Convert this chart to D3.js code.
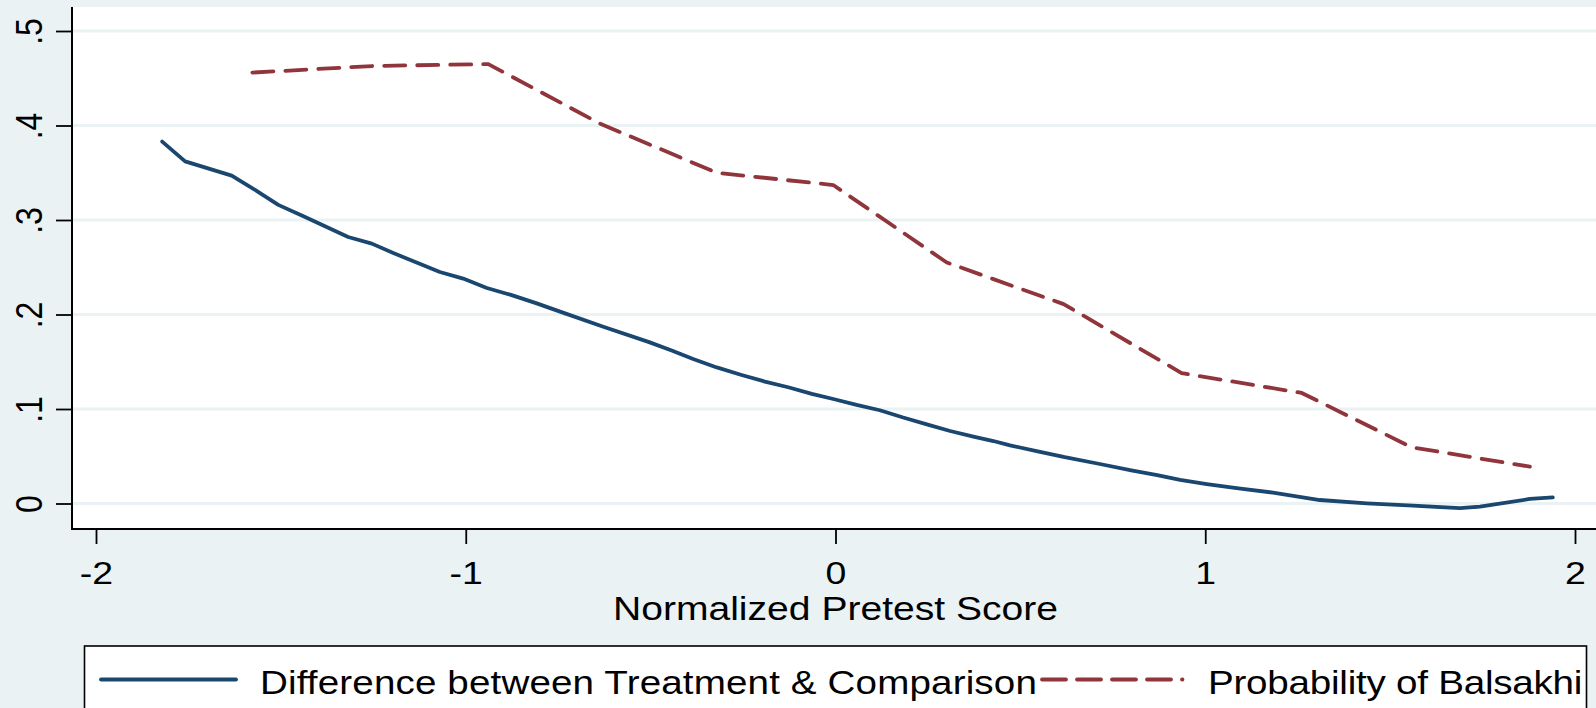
<!DOCTYPE html>
<html>
<head>
<meta charset="utf-8">
<script src="https://cdn.jsdelivr.net/npm/d3@7"></script>
<style>
  html, body { margin: 0; padding: 0; background: #EAF2F3; overflow: hidden; }
  svg { display: block; }
  text { font-family: "Liberation Sans", Arial, sans-serif; fill: #000; }
</style>
</head>
<body>
<svg id="chart" width="1596" height="708"></svg>
<script>
// ---- data ----
const diffX = [-1.821, -1.759, -1.633, -1.570, -1.507, -1.439, -1.318, -1.254, -1.196, -1.133,
               -1.070, -1.007, -0.943, -0.880, -0.810, -0.745, -0.628, -0.506, -0.443, -0.385,
               -0.321, -0.254, -0.191, -0.128, -0.064, -0.006, 0.057, 0.120, 0.183, 0.247,
               0.310, 0.373, 0.427, 0.472, 0.550, 0.620, 0.715, 0.800, 0.870, 0.932,
               1.004, 1.090, 1.183, 1.310, 1.437, 1.562, 1.689, 1.743, 1.878, 1.940];
const diffY = [0.383, 0.362, 0.347, 0.332, 0.316, 0.304, 0.282, 0.275, 0.265, 0.255,
               0.245, 0.238, 0.228, 0.221, 0.212, 0.203, 0.187, 0.171, 0.162, 0.153,
               0.144, 0.136, 0.129, 0.123, 0.116, 0.1106, 0.1043, 0.0987, 0.0910, 0.0838,
               0.0767, 0.0708, 0.0661, 0.0615, 0.0550, 0.0490, 0.0418, 0.0350, 0.0300, 0.0249,
               0.0206, 0.0160, 0.0115, 0.0037, 0.0002, -0.0023, -0.0050, -0.0033, 0.0048, 0.0065];

const probX = [-1.577, -1.250, -0.939, -0.637, -0.321, -0.006, 0.301, 0.617, 0.936, 1.261, 1.558, 1.878];
const probY = [0.456, 0.463, 0.465, 0.402, 0.350, 0.337, 0.255, 0.211, 0.138, 0.117, 0.0595, 0.039];

const xTicks = [-2, -1, 0, 1, 2];
const xTickLabels = ["-2", "-1", "0", "1", "2"];
const yTicks = [0, 0.1, 0.2, 0.3, 0.4, 0.5];
const yTickLabels = ["0", ".1", ".2", ".3", ".4", ".5"];

const xTitle = "Normalized Pretest Score";
const seriesNames = ["Difference between Treatment & Comparison", "Probability of Balsakhi"];
const seriesColors = ["#1A476F", "#90353B"];

// ---- layout ----
const W = 1596, H = 708;
const plotL = 72, plotT = 7, plotR = 1596, plotB = 529;
const SX = 1.17; // horizontal stretch of the original picture
const tickFont = 32, titleFont = 33.4, legendFont = 33;

const svg = d3.select("#chart");

const x = d3.scaleLinear().domain([-2, 2]).range([96, 1575]);
const y = d3.scaleLinear().domain([0, 0.5]).range([503.5, 31]);

// plot region
svg.append("rect")
  .attr("x", plotL).attr("y", plotT)
  .attr("width", plotR - plotL).attr("height", plotB - plotT)
  .attr("fill", "#FFFFFF");

// gridlines
svg.append("g").selectAll("line").data(yTicks).join("line")
  .attr("x1", plotL).attr("x2", plotR)
  .attr("y1", d => y(d)).attr("y2", d => y(d))
  .attr("stroke", "#EAF2F3").attr("stroke-width", 3);

// series lines
const diffData = diffX.map((d, i) => [d, diffY[i]]);
const probData = probX.map((d, i) => [d, probY[i]]);
const line = d3.line().x(d => x(d[0])).y(d => y(d[1]));

svg.append("path").datum(probData)
  .attr("d", line)
  .attr("fill", "none").attr("stroke", seriesColors[1])
  .attr("stroke-width", 3.8).attr("stroke-linecap", "round").attr("stroke-linejoin", "round")
  .attr("stroke-dasharray", "21,12");

svg.append("path").datum(diffData)
  .attr("d", line)
  .attr("fill", "none").attr("stroke", seriesColors[0])
  .attr("stroke-width", 3.8).attr("stroke-linecap", "round").attr("stroke-linejoin", "round");

// axes
const yAxis = d3.axisLeft(y).tickValues(yTicks)
  .tickFormat((d, i) => yTickLabels[i]).tickSizeInner(16).tickSizeOuter(0).tickPadding(0);
const gy = svg.append("g").attr("transform", `translate(${plotL},0)`).call(yAxis);
gy.select(".domain").remove();
gy.selectAll(".tick line").attr("stroke", "#000").attr("stroke-width", 1.8);
gy.selectAll(".tick text")
  .attr("x", null).attr("dy", null)
  .attr("transform", `translate(-30,0) scale(${SX},1) rotate(-90)`)
  .attr("text-anchor", "middle")
  .style("font-size", tickFont + "px")
  .style("font-family", "'Liberation Sans', Arial, sans-serif")
  .attr("fill", "#000");

const xAxis = d3.axisBottom(x).tickValues(xTicks)
  .tickFormat((d, i) => xTickLabels[i]).tickSizeInner(15).tickSizeOuter(0).tickPadding(0);
const gx = svg.append("g").attr("transform", `translate(0,${plotB})`).call(xAxis);
gx.select(".domain").remove();
gx.selectAll(".tick line").attr("stroke", "#000").attr("stroke-width", 1.8);
gx.selectAll(".tick text")
  .attr("y", 55).attr("dy", null)
  .attr("transform", `scale(${SX},1)`)
  .attr("text-anchor", "middle")
  .style("font-size", tickFont + "px")
  .style("font-family", "'Liberation Sans', Arial, sans-serif")
  .attr("fill", "#000");

// axis lines
svg.append("line").attr("x1", plotL).attr("x2", plotL).attr("y1", plotT).attr("y2", plotB + 1)
  .attr("stroke", "#000").attr("stroke-width", 2);
svg.append("line").attr("x1", plotL - 1).attr("x2", plotR).attr("y1", plotB).attr("y2", plotB)
  .attr("stroke", "#000").attr("stroke-width", 2);

// x title
svg.append("text")
  .attr("transform", `translate(${x(0)},620) scale(${SX},1)`)
  .attr("text-anchor", "middle")
  .style("font-size", titleFont + "px")
  .text(xTitle);

// legend
const lg = svg.append("g");
lg.append("rect").attr("x", 84.5).attr("y", 646).attr("width", 1502).attr("height", 90)
  .attr("fill", "#FFFFFF").attr("stroke", "#000").attr("stroke-width", 1.6);
lg.append("line").attr("x1", 101).attr("x2", 236).attr("y1", 679.5).attr("y2", 679.5)
  .attr("stroke", seriesColors[0]).attr("stroke-width", 3.8).attr("stroke-linecap", "round");
lg.append("text").attr("transform", `translate(260,694) scale(${SX},1)`)
  .attr("textLength", 664).attr("lengthAdjust", "spacing")
  .style("font-size", legendFont + "px").text(seriesNames[0]);
lg.append("line").attr("x1", 1042).attr("x2", 1182.5).attr("y1", 679.5).attr("y2", 679.5)
  .attr("stroke", seriesColors[1]).attr("stroke-width", 3.8).attr("stroke-linecap", "round")
  .attr("stroke-dasharray", "24,11");
lg.append("text").attr("transform", `translate(1208,694) scale(${SX},1)`)
  .attr("textLength", 320).attr("lengthAdjust", "spacing")
  .style("font-size", legendFont + "px").text(seriesNames[1]);
</script>
</body>
</html>
